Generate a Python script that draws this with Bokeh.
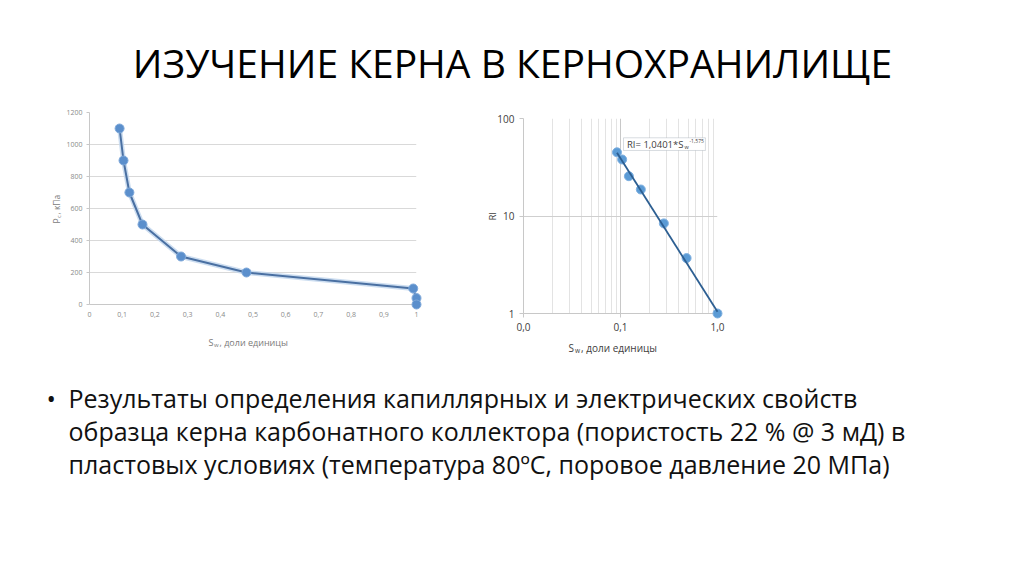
import math
from bokeh.plotting import figure
from bokeh.layouts import column, row
from bokeh.models import (Range1d, FixedTicker, CustomJSTickFormatter, Label, BoxAnnotation, Spacer)
from bokeh.core.properties import value
from bokeh.embed import file_html
from bokeh.resources import INLINE

# ---------------- data ----------------
title_text = "ИЗУЧЕНИЕ КЕРНА В КЕРНОХРАНИЛИЩЕ"
bullet_lines = [
    "Результаты определения капиллярных и электрических свойств",
    "образца керна карбонатного коллектора (пористость 22 % @ 3 мД) в",
    "пластовых условиях (температура 80\u00baС, поровое давление 20 МПа)",
]

# capillary pressure curve (left)
sw_pc = [0.092, 0.104, 0.122, 0.162, 0.28, 0.48, 0.99, 1.0, 1.0]
pc_kpa = [1100, 900, 700, 500, 300, 200, 100, 40, 0]
pc_x_ticks = [0, 0.1, 0.2, 0.3, 0.4, 0.5, 0.6, 0.7, 0.8, 0.9, 1.0]
pc_y_ticks = [0, 200, 400, 600, 800, 1000, 1200]

# resistivity index (right)
sw_ri = [0.092, 0.104, 0.122, 0.162, 0.28, 0.48, 1.0]
ri = [45, 38, 25.6, 18.7, 8.4, 3.7, 1.0]
ri_coef = 1.0401
ri_exp = -1.575
ri_x_ticks = [0.01, 0.1, 1.0]
ri_x_minor = [0.02, 0.03, 0.04, 0.05, 0.06, 0.07, 0.08, 0.09,
              0.2, 0.3, 0.4, 0.5, 0.6, 0.7, 0.8, 0.9]
ri_y_ticks = [1, 10, 100]

FONT = "Open Sans"


def blank_fig(w, h):
    f = figure(width=w, height=h, x_range=Range1d(0, w), y_range=Range1d(0, h),
               x_axis_type=None, y_axis_type=None, toolbar_location=None,
               output_backend="svg", min_border=0, outline_line_color=None)
    f.grid.visible = False
    f.border_fill_color = "white"
    f.background_fill_color = "white"
    return f


def side_text(fig, x, y, dx, dy, txt, size, color, angle=0.0, align="left"):
    # text outside the frame; overlay level so it is not clipped
    fig.text(x=[x], y=[y], text=[txt], x_offset=dx, y_offset=dy, angle=angle,
             text_font=value(FONT), text_font_size=size, text_color=color,
             text_baseline="middle", text_align=align, level="overlay")


# ---------------- top: title ----------------
top = blank_fig(1020, 100)
top.add_layout(Label(x=512, y=38, text=title_text, text_font=FONT, text_font_size="39px",
                     text_color="#000000", text_align="center", text_baseline="middle"))

# ---------------- left chart ----------------
left = figure(width=460, height=260, x_range=Range1d(0, 1), y_range=Range1d(0, 1200),
              toolbar_location=None, output_backend="svg",
              min_border_left=89, min_border_right=44, min_border_top=12, min_border_bottom=56)
left.outline_line_color = None
left.xgrid.visible = False
left.ygrid.grid_line_color = "#D9D9D9"
left.ygrid.grid_line_width = 1
for ax in (left.xaxis[0], left.yaxis[0]):
    ax.axis_label = None
    ax.axis_line_color = "#C8C8C8"
    ax.major_tick_line_color = "#C8C8C8"
    ax.minor_tick_line_color = None
    ax.major_tick_in = 0
    ax.major_label_text_font = FONT
    ax.major_label_text_font_size = "7px"
    ax.major_label_text_color = "#8A8A8A"
left.xaxis.ticker = FixedTicker(ticks=pc_x_ticks)
left.yaxis.ticker = FixedTicker(ticks=pc_y_ticks)
left.xaxis.major_tick_out = 0
left.xaxis.major_label_standoff = 7
left.yaxis.major_tick_out = 3
left.yaxis.major_label_standoff = 4
left.xaxis.formatter = CustomJSTickFormatter(code="""
if (Math.abs(tick) < 1e-9) return '0';
if (Math.abs(tick - 1) < 1e-9) return '1';
return tick.toFixed(1).replace('.', ',');
""")
left.line(sw_pc, pc_kpa, line_color="#BFD4EC", line_width=5, line_alpha=0.8)
left.line(sw_pc, pc_kpa, line_color="#4A70A2", line_width=2)
left.scatter(sw_pc, pc_kpa, size=9, fill_color="#5B8FCC", line_color="#7FA9DA",
             line_width=1, level="overlay")

lab_col = "#7A7A7A"
# x axis title: S_w, доли единицы
side_text(left, 0, 0, 119, 38, "S", "9px", lab_col)
side_text(left, 0, 0, 124.5, 40, "w", "6px", lab_col)
side_text(left, 0, 0, 130, 38, ", доли единицы", "9px", lab_col)
# y axis title: P_c, кПа (rotated)
side_text(left, 0, 0, -32.6, -81, "P", "8.5px", lab_col, angle=math.pi / 2)
side_text(left, 0, 0, -30.4, -86.5, "c", "5.5px", lab_col, angle=math.pi / 2)
side_text(left, 0, 0, -32.6, -90, ", кПа", "8.5px", lab_col, angle=math.pi / 2)

# ---------------- right chart ----------------
right = figure(width=300, height=263, x_axis_type="log", y_axis_type="log",
               x_range=Range1d(0.01, 1.0), y_range=Range1d(1, 100),
               toolbar_location=None, output_backend="svg",
               min_border_left=63, min_border_right=43, min_border_top=12, min_border_bottom=56)
right.outline_line_color = None
right.xaxis.ticker = FixedTicker(ticks=ri_x_ticks, minor_ticks=ri_x_minor)
right.yaxis.ticker = FixedTicker(ticks=ri_y_ticks)
right.xgrid.grid_line_color = "#C8C8C8"
right.xgrid.minor_grid_line_color = "#E3E3E3"
right.ygrid.grid_line_color = "#CFCFCF"
for ax in (right.xaxis[0], right.yaxis[0]):
    ax.axis_label = None
    ax.axis_line_color = "#C8C8C8"
    ax.major_tick_line_color = "#C8C8C8"
    ax.minor_tick_line_color = None
    ax.major_tick_in = 0
    ax.major_tick_out = 4
    ax.major_label_standoff = 5
    ax.major_label_text_font = FONT
    ax.major_label_text_font_size = "10px"
    ax.major_label_text_color = "#404040"
right.xaxis.formatter = CustomJSTickFormatter(code="return tick.toFixed(1).replace('.', ',');")
right.yaxis.formatter = CustomJSTickFormatter(code="return tick.toFixed(0);")

trend_x = [sw_ri[0], sw_ri[-1]]
trend_y = [ri_coef * x ** ri_exp for x in trend_x]
right.scatter(sw_ri, ri, size=9, fill_color="#5B9BD5", line_color="#7FB0E0", line_width=1,
              level="overlay")
right.line(trend_x, trend_y, line_color="#2D5F92", line_width=1.8, level="overlay")

# equation box
right.add_layout(BoxAnnotation(left=0.1074, right=0.751, bottom=47.0, top=63.4,
                               fill_color="white", fill_alpha=1.0,
                               line_color="#7F8C99", line_width=1))
eq_col = "#404040"
right.add_layout(Label(x=0.1074, y=63.4, x_offset=3.5, y_offset=-6.5, text="RI= 1,0401*S",
                       text_font=FONT, text_font_size="9.5px", text_color=eq_col,
                       text_baseline="middle"))
right.add_layout(Label(x=0.1074, y=63.4, x_offset=61, y_offset=-9, text="w",
                       text_font=FONT, text_font_size="5.5px", text_color=eq_col,
                       text_baseline="middle"))
right.add_layout(Label(x=0.1074, y=63.4, x_offset=66, y_offset=-3.5, text="-1,575",
                       text_font=FONT, text_font_size="5px", text_color=eq_col,
                       text_baseline="middle"))

# axis titles
r_col = "#404040"
side_text(right, 0.01, 1, 45, 34, "S", "10px", r_col)
side_text(right, 0.01, 1, 51.5, 36.5, "w", "6.5px", r_col)
side_text(right, 0.01, 1, 57.5, 34, ", доли единицы", "10px", r_col)
side_text(right, 0.01, 1, -31.3, -97.3, "RI", "9px", r_col, angle=math.pi / 2, align="center")

# ---------------- bottom: bullet text ----------------
bottom = blank_fig(1020, 201)
base_y = [173, 140, 107]
bottom.add_layout(Label(x=46, y=base_y[0], text="\u2022", text_font=FONT, text_font_size="25px",
                        text_color="#111111", text_baseline="middle"))
for yy, line in zip(base_y, bullet_lines):
    bottom.add_layout(Label(x=68, y=yy, text=line, text_font=FONT,
                            text_font_size="25px", text_color="#111111",
                            text_baseline="middle"))

middle = row(left, column(Spacer(width=300, height=6), right))
layout = column(top, middle, bottom)
open("out.html", "w").write(file_html(layout, INLINE))
